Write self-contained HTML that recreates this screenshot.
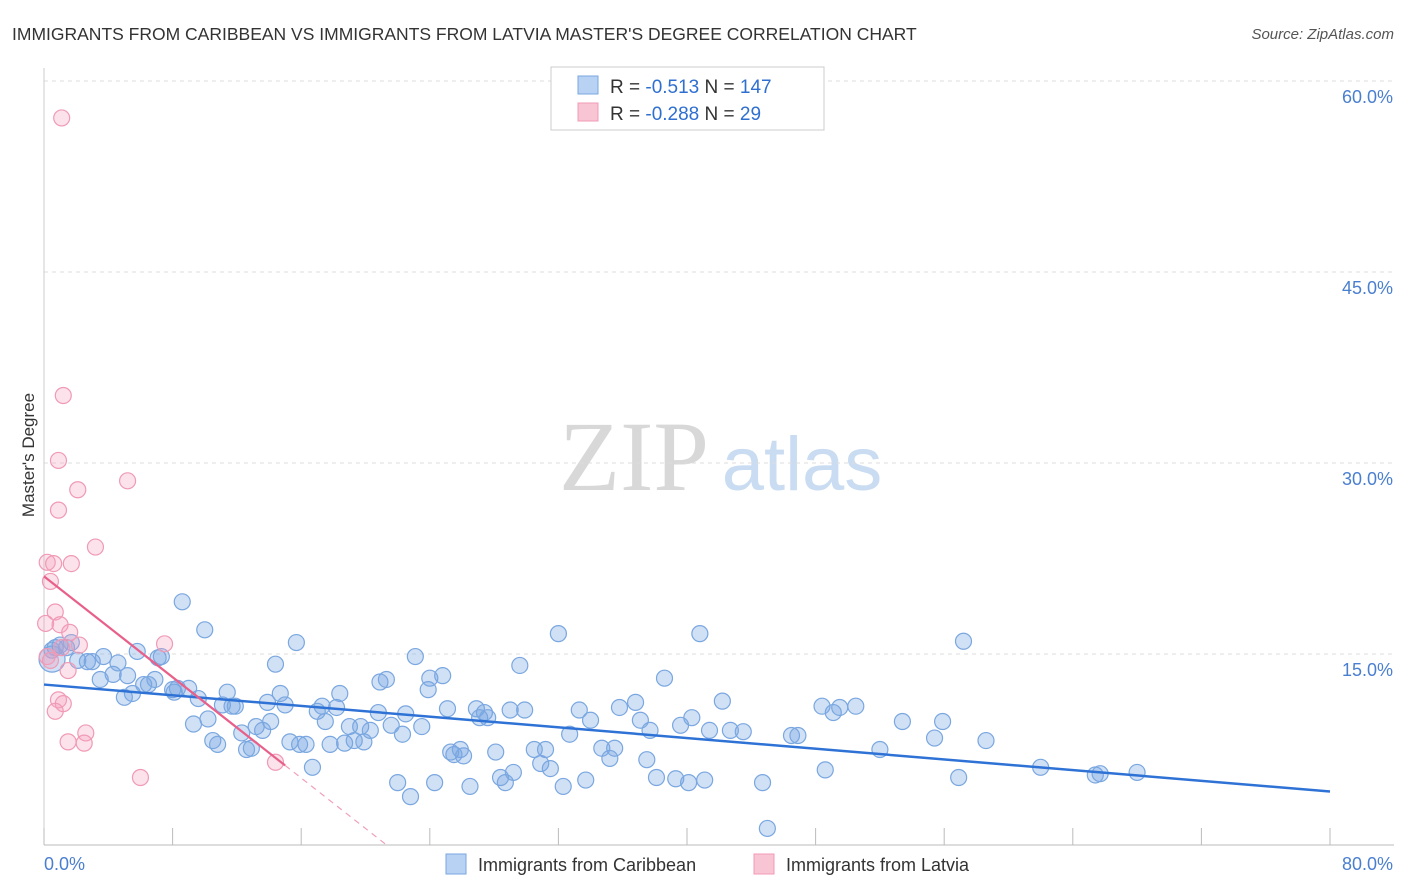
<!DOCTYPE html>
<html><head><meta charset="utf-8"><style>
body{margin:0;background:#fff;font-family:"Liberation Sans",sans-serif}
svg{display:block}
</style></head><body>
<svg id="chart" width="1406" height="892" xmlns="http://www.w3.org/2000/svg">
<text x="12" y="40" font-size="17.5" fill="#333">IMMIGRANTS FROM CARIBBEAN VS IMMIGRANTS FROM LATVIA MASTER'S DEGREE CORRELATION CHART</text>
<text x="1394" y="39" font-size="15" fill="#555" font-style="italic" text-anchor="end">Source: ZipAtlas.com</text>
<g>
<text x="634" y="490" font-size="100" fill="#d8d8d8" font-family="Liberation Serif,serif" text-anchor="middle">ZIP</text>
<text x="802" y="490" font-size="76" fill="#c9dcf2" text-anchor="middle">atlas</text>
</g>
<g id="grid"></g><g id="axes"></g><g id="marks"></g>
<text transform="translate(34,455) rotate(-90)" font-size="17" fill="#333" text-anchor="middle">Master's Degree</text>
<g>
<rect x="551" y="67" width="273" height="63" fill="#fff" stroke="#ccc"/>
<rect x="578" y="76" width="20" height="18" fill="#b8d2f3" stroke="#7aa7e0"/>
<rect x="578" y="103" width="20" height="18" fill="#f8c5d5" stroke="#f09ab5"/>
<text x="610" y="93" font-size="19" fill="#333">R = <tspan fill="#2f6fd0">-0.513</tspan>   N = <tspan fill="#2f6fd0">147</tspan></text>
<text x="610" y="120" font-size="19" fill="#333">R = <tspan fill="#2f6fd0">-0.288</tspan>   N = <tspan fill="#2f6fd0">  29</tspan></text>
</g>
<g>
<rect x="446" y="854" width="20" height="20" fill="#b8d2f3" stroke="#7aa7e0"/>
<text x="478" y="871" font-size="18" fill="#333">Immigrants from Caribbean</text>
<rect x="754" y="854" width="20" height="20" fill="#f8c5d5" stroke="#f09ab5"/>
<text x="786" y="871" font-size="18" fill="#333">Immigrants from Latvia</text>
</g>
</svg>
<script>
const blueX=[0.5,0.7,1.0,1.4,1.7,2.1,2.7,3.0,3.5,3.7,4.3,4.6,5.0,5.2,5.5,5.8,6.2,6.5,6.9,7.1,7.3,8.0,8.1,8.3,8.6,9.0,9.3,9.6,10.0,10.2,10.5,10.8,11.1,11.4,11.7,11.9,12.3,12.6,12.9,13.2,13.6,13.9,14.1,14.4,14.7,15.0,15.3,15.7,15.9,16.3,16.7,17.0,17.3,17.5,17.8,18.2,18.4,18.7,19.0,19.3,19.7,19.9,20.3,20.8,20.9,21.3,21.6,22.0,22.3,22.5,22.8,23.1,23.5,23.9,24.0,24.3,24.8,25.1,25.3,25.5,25.9,26.1,26.5,26.9,27.1,27.4,27.6,28.1,28.4,28.7,29.0,29.2,29.6,29.9,30.5,30.9,31.2,31.5,32.0,32.3,32.7,33.3,33.7,34.0,34.7,35.2,35.5,35.8,36.8,37.1,37.5,37.7,38.1,38.6,39.3,39.6,40.1,40.3,40.8,41.1,41.4,42.2,42.7,43.5,44.7,45.0,46.5,46.9,48.4,48.6,49.1,49.5,50.5,52.0,53.4,55.4,55.9,56.9,57.2,58.6,62.0,65.4,65.7,68.0,0.5];
const blueY=[15.3,15.5,15.7,15.5,15.9,14.5,14.4,14.4,13.0,14.8,13.4,14.3,11.6,13.3,11.9,15.2,12.6,12.6,13.0,14.7,14.8,12.2,12.0,12.3,19.1,12.3,9.5,11.5,16.9,9.9,8.2,7.9,11.0,12.0,10.9,10.9,8.8,7.5,7.6,9.3,9.0,11.2,9.7,14.2,11.9,11.0,8.1,15.9,7.9,7.9,6.1,10.5,10.9,9.7,7.9,10.8,11.9,8.0,9.3,8.2,9.3,8.1,9.0,10.4,12.8,13.0,9.4,4.9,8.7,10.3,3.8,14.8,9.3,12.2,13.1,4.9,13.3,10.7,7.3,7.1,7.5,7.0,4.6,10.7,10.0,10.4,10.0,7.3,5.3,4.9,10.6,5.7,14.1,10.6,7.5,6.4,7.5,6.0,16.6,4.6,8.7,10.6,5.1,9.8,7.6,6.8,7.6,10.8,11.2,9.8,6.7,9.0,5.3,13.1,5.2,9.4,4.9,10.0,16.6,5.1,9.0,11.3,9.0,8.9,4.9,1.3,8.6,8.6,10.9,5.9,10.4,10.8,10.9,7.5,9.7,8.4,9.7,5.3,16.0,8.2,6.1,5.5,5.6,5.7,14.6];
const pinkX=[1.1,1.2,0.9,2.1,5.2,0.9,3.2,0.2,0.6,1.7,0.4,0.7,0.1,1.0,1.6,2.2,7.5,1.1,0.2,1.5,0.9,1.2,0.7,2.6,1.5,2.5,6.0,14.4,0.4];
const pinkY=[57.1,35.3,30.2,27.9,28.6,26.3,23.4,22.2,22.1,22.1,20.7,18.3,17.4,17.3,16.7,15.7,15.8,15.5,14.8,13.7,11.4,11.1,10.5,8.8,8.1,8.0,5.3,6.5,14.5];
const blueTrend=[12.6,4.2]; // y at x=0 and x=80
const pinkTrend=[21.1,-0.99]; // intercept, slope
const xTicks=[0,8,16,24,32,40,48,56,64,72,80];
const yTicks=[15,30,45,60];
const yTickLabels=["15.0%","30.0%","45.0%","60.0%"];
const NS="http://www.w3.org/2000/svg";
const X=v=>44+v/80*1286, Y=v=>845-v/15*191;
function el(t,a,p){const e=document.createElementNS(NS,t);for(const k in a)e.setAttribute(k,a[k]);document.getElementById(p).appendChild(e);return e;}
yTicks.forEach((t,i)=>{
 const g=el('line',{x1:44,x2:1394,y1:Y(t),y2:Y(t),stroke:'#ddd','stroke-dasharray':'4,4'},'grid');
 
 
 const l=el('text',{x:1393,y:Y(t)+22,'font-size':18,fill:'#4a7fd0','text-anchor':'end'},'axes');l.textContent=yTickLabels[i];
 
 
});
const ax=el('line',{x1:44,x2:1394,y1:845,y2:845,stroke:'#bbb'},'axes');


const ay=el('line',{x1:44,x2:44,y1:68,y2:845,stroke:'#ccc'},'axes');


xTicks.forEach(t=>{const k=el('line',{x1:X(t),x2:X(t),y1:828,y2:845,stroke:'#bbb'},'axes');
 
 });
let t0=el('text',{x:44,y:870,'font-size':18,fill:'#4a7fd0'},'axes');t0.textContent='0.0%';


let t1=el('text',{x:1393,y:870,'font-size':18,fill:'#4a7fd0','text-anchor':'end'},'axes');t1.textContent='80.0%';


blueX.forEach((x,i)=>{const c=el('circle',{cx:X(x),cy:Y(blueY[i]),r:i==blueX.length-1?13:8,fill:'rgba(120,165,225,0.35)',stroke:'#7aa7e0','stroke-width':1.2},'marks');
 
 });
pinkX.forEach((x,i)=>{const c=el('circle',{cx:X(x),cy:Y(pinkY[i]),r:8,fill:'rgba(245,160,190,0.3)',stroke:'#f09ab5','stroke-width':1.2},'marks');
 
 });
const bl=el('line',{x1:X(0),y1:Y(blueTrend[0]),x2:X(80),y2:Y(blueTrend[1]),stroke:'#2f72d6','stroke-width':2.5},'marks');


const pEnd=15, pZero=-pinkTrend[0]/pinkTrend[1];
const pl=el('line',{x1:X(0),y1:Y(pinkTrend[0]),x2:X(pEnd),y2:Y(pinkTrend[0]+pinkTrend[1]*pEnd),stroke:'#e8608a','stroke-width':2.2},'marks');


const pd=el('line',{x1:X(pEnd),y1:Y(pinkTrend[0]+pinkTrend[1]*pEnd),x2:X(pZero),y2:Y(0),stroke:'#f0a0b8','stroke-width':1.2,'stroke-dasharray':'6,5'},'marks');


</script>
</body></html>
